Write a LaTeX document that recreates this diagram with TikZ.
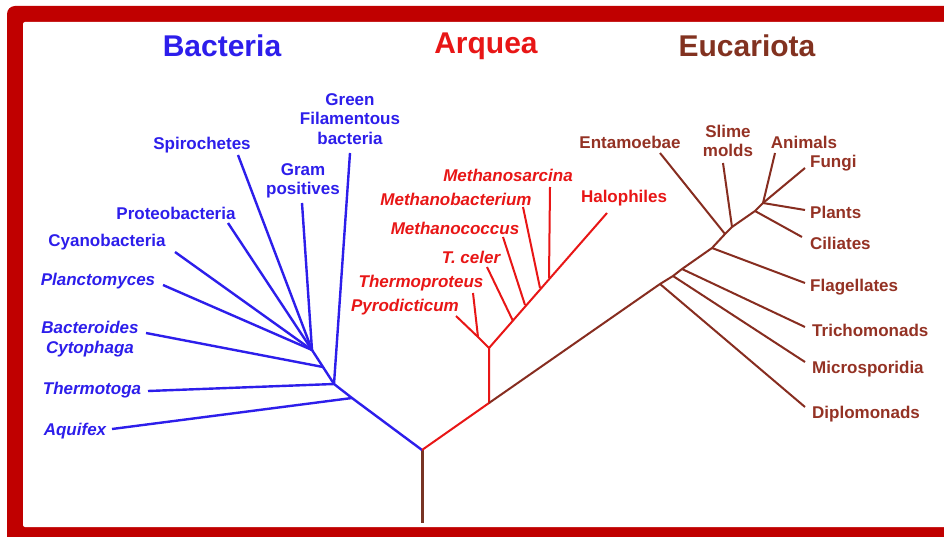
\documentclass[tikz,border=0pt]{standalone}
\usepackage{fontspec}
\setmainfont{Liberation Sans}
\usetikzlibrary{positioning,calc}
\definecolor{bactblue}{RGB}{45,30,235}
\definecolor{arqred}{RGB}{232,22,22}
\definecolor{euctext}{RGB}{148,50,36}
\definecolor{eucline}{RGB}{135,45,32}
\definecolor{euctitle}{RGB}{130,50,32}
\definecolor{rootbrown}{RGB}{120,52,36}
\definecolor{framered}{RGB}{192,0,0}

\begin{document}
\begin{tikzpicture}[x=1pt,y=-1pt,
            header/.style={font=\fontsize{30}{32}\selectfont\bfseries,inner sep=0pt},
            bact/.style={text=bactblue,font=\fontsize{17}{19.5}\selectfont\bfseries,
                         align=center,inner sep=0pt},
            bacti/.style={bact,font=\fontsize{17}{19.5}\selectfont\bfseries\itshape},
            arq/.style={text=arqred,font=\fontsize{17}{19.5}\selectfont\bfseries,
                        inner sep=0pt},
            arqi/.style={arq,font=\fontsize{17}{19.5}\selectfont\bfseries\itshape},
            euc/.style={text=euctext,font=\fontsize{17}{19.5}\selectfont\bfseries,
                        align=center,inner sep=0pt},
            bline/.style={draw=bactblue,line width=2.4pt},
            aline/.style={draw=arqred,line width=2pt},
            eline/.style={draw=eucline,line width=2pt}]
        \useasboundingbox (0,0) rectangle (944,537);
        \clip (0,0) rectangle (944,537);
        \fill[white] (0,0) rectangle (944,537);
        \fill[framered,rounded corners=8pt] (7,6) rectangle (990,570);
        \fill[white,rounded corners=2pt] (23,22) rectangle (980,527);

        \node[header,text=bactblue] (bacteria) at (222,46) {Bacteria};
        \node[header,text=arqred] (arquea) at (486,46) {Arquea};
        \node[header,text=euctitle] (eucariota) at (747,46) {Eucariota};

        \coordinate (root) at (422,450);
        \coordinate (base) at (422,523);
        \draw[draw=rootbrown,line width=3pt] (root) -- (base);

        \coordinate (bj) at (352,398);
        \coordinate (bhub) at (334,384);
        \coordinate (bcy) at (323,367);
        \coordinate (bstem) at (312,350);
        \node[bact] (green) at (350,119) {Green\\Filamentous\\bacteria};
        \node[bact] (gram) at (303,181) {Gram\\positives};
        \node[bact] (spiro) at (202,145) {Spirochetes};
        \node[bact] (proteo) at (176,213) {Proteobacteria};
        \node[bact] (cyano) at (107,242) {Cyanobacteria};
        \node[bacti] (plancto) at (98,281) {Planctomyces};
        \node[bacti] (bactcyto) at (90,339) {Bacteroides\\Cytophaga};
        \node[bacti] (thermotoga) at (92,390) {Thermotoga};
        \node[bacti] (aquifex) at (75,431) {Aquifex};
        \coordinate (green-end) at (350,153);
        \coordinate (gram-end) at (302,203);
        \coordinate (spiro-end) at (238,155);
        \coordinate (proteo-end) at (228,223);
        \coordinate (cyano-end) at (175,252);
        \coordinate (plancto-end) at (163,285);
        \coordinate (bactcyto-end) at (146,333);
        \coordinate (thermotoga-end) at (148,391);
        \coordinate (aquifex-end) at (112,429);
        \draw[bline] (root) -- (bj) -- (bhub) -- (bcy) -- (bstem);
        \draw[bline] (aquifex-end) -- (bj);
        \draw[bline] (thermotoga-end) -- (bhub);
        \draw[bline] (green-end) -- (bhub);
        \draw[bline] (bactcyto-end) -- (bcy);
        \foreach \leaf in {gram,spiro,proteo,cyano,plancto}
            \draw[bline] (\leaf-end) -- (bstem);

        \coordinate (ajoin) at (489,403);
        \coordinate (astem) at (489,348);
        \coordinate (apy) at (478,337);
        \coordinate (atc) at (513,321);
        \coordinate (amc) at (525,305);
        \coordinate (amb) at (540,288);
        \coordinate (ams) at (549,278);
        \node[arqi] (msarc) at (508,175) {Methanosarcina};
        \node[arqi] (mbact) at (456,199) {Methanobacterium};
        \node[arqi] (mcoccus) at (455,228) {Methanococcus};
        \node[arqi] (tceler) at (471,257) {T. celer};
        \node[arqi] (thermoproteus) at (421,283) {Thermoproteus};
        \node[arqi] (pyro) at (405,307) {Pyrodicticum};
        \node[arq] (halo) at (624,198) {Halophiles};
        \coordinate (msarc-end) at (550,187);
        \coordinate (mbact-end) at (523,207);
        \coordinate (mcoccus-end) at (503,237);
        \coordinate (tceler-end) at (487,267);
        \coordinate (thermoproteus-end) at (473,293);
        \coordinate (pyro-end) at (456,316);
        \coordinate (halo-end) at (607,213);
        \draw[aline] (root) -- (ajoin) -- (astem) -- (halo-end);
        \draw[aline] (astem) -- (apy) -- (pyro-end);
        \draw[aline] (thermoproteus-end) -- (apy);
        \draw[aline] (tceler-end) -- (atc);
        \draw[aline] (mcoccus-end) -- (amc);
        \draw[aline] (mbact-end) -- (amb);
        \draw[aline] (msarc-end) -- (ams);

        \coordinate (edi) at (660,284);
        \coordinate (emi) at (673,276);
        \coordinate (etr) at (682,269);
        \coordinate (efl) at (712,248);
        \coordinate (een) at (725,234);
        \coordinate (esl) at (732,227);
        \coordinate (eci) at (755,211);
        \coordinate (ehub) at (763,203);
        \node[euc] (entamoebae) at (630,142) {Entamoebae};
        \node[euc] (slime) at (728,141) {Slime\\molds};
        \node[euc] (animals) at (804,142) {Animals};
        \node[euc,anchor=west] (fungi) at (810,163) {Fungi};
        \node[euc,anchor=west] (plants) at (810,212) {Plants};
        \node[euc,anchor=west] (ciliates) at (810,243) {Ciliates};
        \node[euc,anchor=west] (flag) at (810,287) {Flagellates};
        \node[euc,anchor=west] (tricho) at (812,330) {Trichomonads};
        \node[euc,anchor=west] (micro) at (812,369) {Microsporidia};
        \node[euc,anchor=west] (diplo) at (812,414) {Diplomonads};
        \coordinate (entamoebae-end) at (660,153);
        \coordinate (slime-end) at (723,163);
        \coordinate (animals-end) at (775,153);
        \coordinate (fungi-end) at (805,168);
        \coordinate (plants-end) at (805,210);
        \coordinate (ciliates-end) at (802,237);
        \coordinate (flag-end) at (805,283);
        \coordinate (tricho-end) at (805,327);
        \coordinate (micro-end) at (805,362);
        \coordinate (diplo-end) at (805,407);
        \draw[eline] (ajoin) -- (edi) -- (emi) -- (etr) -- (efl) -- (een)
                     -- (esl) -- (eci) -- (ehub);
        \draw[eline] (edi) -- (diplo-end);
        \draw[eline] (emi) -- (micro-end);
        \draw[eline] (etr) -- (tricho-end);
        \draw[eline] (efl) -- (flag-end);
        \draw[eline] (een) -- (entamoebae-end);
        \draw[eline] (esl) -- (slime-end);
        \draw[eline] (eci) -- (ciliates-end);
        \foreach \leaf in {animals,fungi,plants}
            \draw[eline] (ehub) -- (\leaf-end);
\end{tikzpicture}
\end{document}
